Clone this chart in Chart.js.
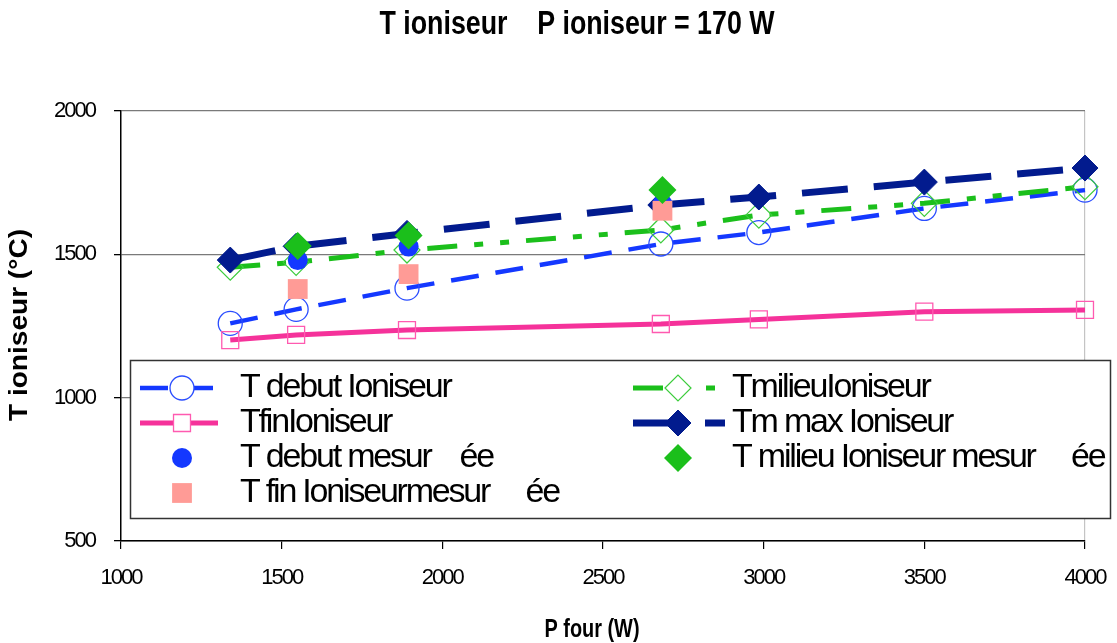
<!DOCTYPE html>
<html lang="fr">
<head>
<meta charset="UTF-8">
<title>T ioniseur - P ioniseur = 170 W</title>
<script src="https://cdn.jsdelivr.net/npm/chart.js"></script>
<style>
    html, body { margin: 0; padding: 0; background: #fff; }
</style>
</head>
<body>
<canvas id="chart" width="1117" height="643"></canvas>
<script>
// computed curves, P four (W)
var pFour = [1340, 1545, 1890, 2680, 2985, 3500, 4000];
var tDebut = [1259, 1308, 1382, 1536, 1576, 1660, 1724];
var tFin = [1201, 1219, 1236, 1257, 1273, 1300, 1306];
var tMilieu = [1455, 1472, 1515, 1585, 1637, 1678, 1736];
var tMax = [1480, 1528, 1573, 1672, 1700, 1752, 1801];

// measured points
var pMesure = [1550, 1895, 2685];
var tDebutMes = [1480, 1527, 1675];
var tFinMes = [1379, 1431, 1652];
var tMilieuMes = [1529, 1566, 1724];

var xTicks = [1000, 1500, 2000, 2500, 3000, 3500, 4000];
var yTicks = [500, 1000, 1500, 2000];

var labels = {
    debut: 'T debut Ioniseur',
    fin: 'TfinIoniseur',
    milieu: 'TmilieuIoniseur',
    max: 'Tm max Ioniseur',
    debutMes: 'T debut mesur    ée',
    finMes: 'T fin Ioniseurmesur     ée',
    milieuMes: 'T milieu Ioniseur mesur     ée'
};

function pts(xs, ys) {
    return xs.map(function (x, i) { return { x: x, y: ys[i] }; });
}

var BLUE = '#1438ff', PINK = '#f5329a', GREEN = '#1bbf1b', NAVY = '#021b8e', SALMON = '#ff9b96';

var datasets = [
    { label: labels.debut, data: pts(pFour, tDebut), showLine: true, order: 6,
      borderColor: BLUE, borderWidth: 4.5, borderDash: [28, 17],
      pointStyle: 'circle', pointRadius: 12, pointBorderWidth: 1.3,
      pointBorderColor: '#2a4dff', pointBackgroundColor: 'rgba(255,255,255,0)' },
    { label: labels.fin, data: pts(pFour, tFin), showLine: true, order: 5,
      borderColor: PINK, borderWidth: 5,
      pointStyle: 'rect', pointRadius: 12, pointBorderWidth: 1.3,
      pointBorderColor: '#ff5ab0', pointBackgroundColor: 'rgba(255,255,255,0)' },
    { label: labels.milieu, data: pts(pFour, tMilieu), showLine: true, order: 4,
      borderColor: GREEN, borderWidth: 5, borderDash: [30, 17, 9, 17, 9, 17],
      pointStyle: 'rectRot', pointRadius: 13, pointBorderWidth: 1.2,
      pointBorderColor: '#3ccc3c', pointBackgroundColor: 'rgba(255,255,255,0)' },
    { label: labels.max, data: pts(pFour, tMax), showLine: true, order: 3,
      borderColor: NAVY, borderWidth: 7, borderDash: [46, 26],
      pointStyle: 'rectRot', pointRadius: 13, pointBorderWidth: 1,
      pointBorderColor: NAVY, pointBackgroundColor: NAVY },
    { label: labels.debutMes, data: pts(pMesure, tDebutMes), showLine: false, order: 2,
      pointStyle: 'circle', pointRadius: 10, pointBorderWidth: 0,
      borderColor: BLUE, pointBackgroundColor: BLUE },
    { label: labels.finMes, data: pts(pMesure, tFinMes), showLine: false, order: 1,
      pointStyle: 'rect', pointRadius: 14, pointBorderWidth: 0,
      borderColor: SALMON, pointBackgroundColor: SALMON },
    { label: labels.milieuMes, data: pts(pMesure, tMilieuMes), showLine: false, order: 0,
      pointStyle: 'rectRot', pointRadius: 14, pointBorderWidth: 0,
      borderColor: GREEN, pointBackgroundColor: GREEN }
];
datasets.forEach(function (d) { d.clip = false; d.backgroundColor = d.pointBackgroundColor; });

// legend layout: two columns, dataset indexes
var legendLeft = [0, 1, 4, 5];
var legendRight = [2, 3, 6];

function marker(ctx, ds, x, y, legend) {
    var r = ds.pointRadius, s;
    ctx.beginPath();
    if (ds.pointStyle === 'circle') {
        ctx.arc(x, y, r, 0, Math.PI * 2);
    } else if (ds.pointStyle === 'rect') {
        s = r * Math.SQRT1_2;
        ctx.rect(x - s, y - s, 2 * s, 2 * s);
    } else {
        ctx.moveTo(x - r, y); ctx.lineTo(x, y - r); ctx.lineTo(x + r, y); ctx.lineTo(x, y + r);
        ctx.closePath();
    }
    var fill = ds.pointBackgroundColor;
    if (legend && fill.indexOf('rgba') === 0) fill = '#fff';
    ctx.fillStyle = fill;
    ctx.fill();
    if (ds.pointBorderWidth) {
        ctx.setLineDash([]);
        ctx.lineWidth = ds.pointBorderWidth;
        ctx.strokeStyle = ds.pointBorderColor;
        ctx.stroke();
    }
}

function fitText(ctx, text, x, y, font, width, align, spacing) {
    ctx.save();
    ctx.font = font;
    ctx.letterSpacing = spacing || '0px';
    var sx = width ? width / ctx.measureText(text).width : 1;
    ctx.translate(x, y);
    ctx.scale(sx, 1);
    ctx.textAlign = align || 'left';
    ctx.textBaseline = 'alphabetic';
    ctx.fillStyle = '#000';
    ctx.fillText(text, 0, 0);
    ctx.restore();
}

var decor = {
    id: 'decor',
    beforeDraw: function (chart) {
        chart.ctx.letterSpacing = '-2px';
    },
    afterDraw: function (chart) {
        var ctx = chart.ctx;
        ctx.save();
        // title and axis titles
        fitText(ctx, 'T ioniseur    P ioniseur = 170 W', 577, 34, 'bold 33px "Liberation Sans", Arial, sans-serif', 395, 'center');
        fitText(ctx, 'P four (W)', 592, 637, 'bold 25px "Liberation Sans", Arial, sans-serif', 95, 'center');
        ctx.save();
        ctx.translate(27, 325);
        ctx.rotate(-Math.PI / 2);
        fitText(ctx, 'T ioniseur (°C)', 0, 0, 'bold 26px "Liberation Sans", Arial, sans-serif', 192, 'center');
        ctx.restore();

        // legend box
        ctx.fillStyle = '#fff';
        ctx.fillRect(130, 360, 980, 158);
        ctx.lineWidth = 1.5;
        ctx.strokeStyle = '#333';
        ctx.strokeRect(130.5, 360.5, 980, 158);

        var rowsBase = [397, 432, 467, 502];
        function item(idx, row, x0, x1, mx, tx) {
            var ds = datasets[idx];
            var cy = rowsBase[row] - 9;
            if (ds.showLine) {
                ctx.beginPath();
                ctx.setLineDash(ds.borderDash || []);
                ctx.lineWidth = ds.borderWidth;
                ctx.strokeStyle = ds.borderColor;
                ctx.moveTo(x0, cy);
                ctx.lineTo(x1, cy);
                ctx.stroke();
                ctx.setLineDash([]);
            }
            marker(ctx, ds, mx, cy, true);
            fitText(ctx, ds.label, tx, rowsBase[row], '34px "Liberation Sans", Arial, sans-serif', 0, 'left', '-2.2px');
        }
        legendLeft.forEach(function (idx, row) { item(idx, row, 140, 218, 182, 240); });
        legendRight.forEach(function (idx, row) { item(idx, row, 633, 725, 678, 732); });
        ctx.restore();
    }
};

var tickFont = { family: '"Liberation Sans", Arial, sans-serif', size: 22 };
function plain(v) { return String(v); }

new Chart(document.getElementById('chart').getContext('2d'), {
    type: 'scatter',
    data: { datasets: datasets },
    options: {
        responsive: false,
        animation: false,
        devicePixelRatio: 1,
        layout: { padding: { top: 111, right: 32, left: 0, bottom: 0 } },
        plugins: { legend: { display: false }, title: { display: false }, tooltip: { enabled: false } },
        scales: {
            x: {
                type: 'linear', min: 1000, max: 4000,
                afterBuildTicks: function (s) { s.ticks = xTicks.map(function (v) { return { value: v }; }); },
                afterFit: function (s) { s.height = 102; s.paddingLeft = 0; s.paddingRight = 0; },
                grid: {
                    color: function (c) { return c.tick && c.tick.value === 4000 ? '#c4c4c4' : 'rgba(0,0,0,0)'; },
                    tickColor: '#000', tickLength: 8, lineWidth: 1.2
                },
                border: { color: '#000', width: 1.5 },
                ticks: { color: '#000', padding: 16, maxRotation: 0, callback: plain, font: tickFont }
            },
            y: {
                type: 'linear', min: 500, max: 2000,
                afterBuildTicks: function (s) { s.ticks = yTicks.map(function (v) { return { value: v }; }); },
                afterFit: function (s) { s.width = 121; s.paddingTop = 0; s.paddingBottom = 0; },
                grid: { color: '#7a7a7a', tickColor: '#000', tickLength: 7, lineWidth: 1.3 },
                border: { color: '#000', width: 1.5 },
                ticks: { color: '#000', padding: 19, callback: plain, font: tickFont }
            }
        }
    },
    plugins: [decor]
});
</script>
</body>
</html>
